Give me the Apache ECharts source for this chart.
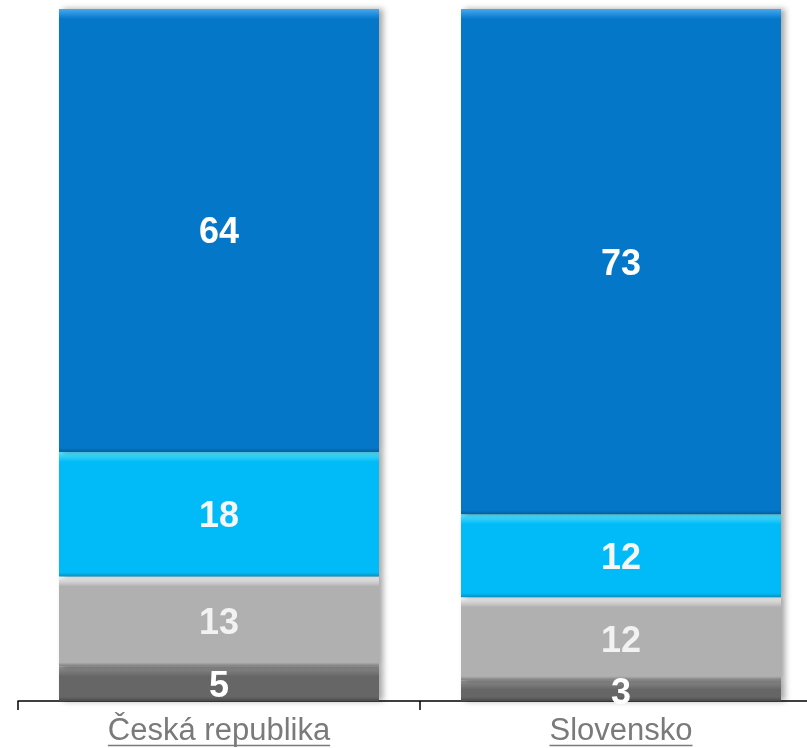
<!DOCTYPE html>
<html>
<head>
<meta charset="utf-8">
<script src="https://cdn.jsdelivr.net/npm/echarts@6/dist/echarts.min.js"></script>
<style>
html,body{margin:0;padding:0;background:#fff;}
#chart{width:807px;height:748px;}
</style>
</head>
<body>
<div id="chart"></div>
<script>
var categories = ['Česká republika', 'Slovensko'];
var darkGray = [5, 3];
var lightGray = [13, 12];
var cyan = [18, 12];
var blue = [64, 73];

var chart = echarts.init(document.getElementById('chart'));
var PX_PER_UNIT = 692 / 100;
var LABEL_FONT = 31;

function bevel(base, light, dark) {
  return function (val) {
    var h = Math.max(val * PX_PER_UNIT, 1);
    var t = Math.min(10 / h, 0.45);
    var b = Math.min(4 / h, 0.3);
    return {
      value: val,
      itemStyle: {
        color: {
          type: 'linear', x: 0, y: 0, x2: 0, y2: 1,
          colorStops: [
            { offset: 0, color: light },
            { offset: t, color: base },
            { offset: 1 - b, color: base },
            { offset: 1, color: dark }
          ]
        }
      }
    };
  };
}

function mkSeries(name, arr, base, light, dark, labelColor) {
  return {
    name: name,
    type: 'bar',
    stack: 'total',
    barWidth: 320,
    data: arr.map(bevel(base, light, dark)),
    itemStyle: {
      shadowColor: 'rgba(0,0,0,0.35)',
      shadowBlur: 6,
      shadowOffsetX: 4,
      shadowOffsetY: 0
    },
    label: {
      show: true,
      position: 'inside',
      offset: [0, 3],
      color: labelColor,
      fontFamily: 'Liberation Sans, Arial, sans-serif',
      fontWeight: 'bold',
      fontSize: 36
    }
  };
}

chart.setOption({
  animation: false,
  backgroundColor: '#ffffff',
  grid: { left: 18, top: 9, width: 804, height: 692, containLabel: false, outerBoundsMode: 'none' },
  xAxis: {
    type: 'category',
    data: categories,
    axisLine: { show: true, lineStyle: { color: '#000', width: 1.5 } },
    axisTick: { show: true, alignWithLabel: false, length: 9, lineStyle: { color: '#000', width: 1.5 } },
    axisLabel: {
      color: '#7a7a7a',
      fontFamily: 'Liberation Sans, Arial, sans-serif',
      fontSize: LABEL_FONT,
      margin: 15
    }
  },
  yAxis: {
    type: 'value',
    min: 0,
    max: 100,
    show: false
  },
  series: [
    mkSeries('a', darkGray, '#666666', '#8f8f8f', '#4a4a4a', '#ffffff'),
    mkSeries('b', lightGray, '#b0b0b0', '#fafafa', '#7c7c7c', '#f2f2f2'),
    mkSeries('c', cyan, '#00bbf7', '#5ae4ff', '#0a8fc0', '#f6f6f6'),
    mkSeries('d', blue, '#0577c9', '#45aaf2', '#045f9e', '#ffffff')
  ]
});

function addUnderlines() {
  var g = [];
  var ctx = document.createElement('canvas').getContext('2d');
  ctx.font = LABEL_FONT + 'px Liberation Sans, Arial, sans-serif';
  categories.forEach(function (c) {
    var x = chart.convertToPixel({ xAxisIndex: 0 }, c);
    var w = ctx.measureText(c).width;
    g.push({
      type: 'line',
      shape: { x1: x - w / 2, y1: 745.5, x2: x + w / 2, y2: 745.5 },
      style: { stroke: '#7a7a7a', lineWidth: 1.5 }
    });
  });
  chart.setOption({ graphic: g });
}
addUnderlines();
</script>
</body>
</html>
